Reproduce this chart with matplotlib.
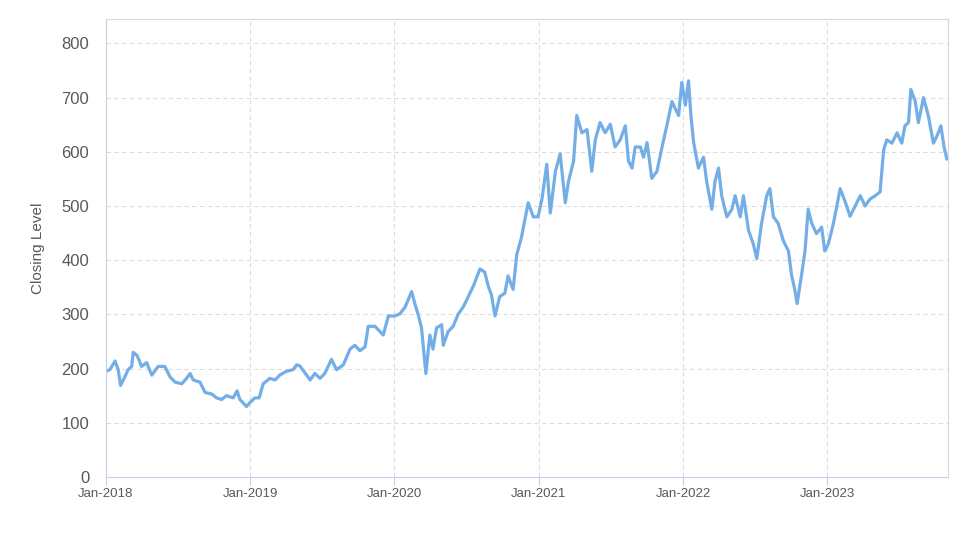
import pandas as pd
import numpy as np
import matplotlib
matplotlib.use("Agg")
import matplotlib.pyplot as plt
import matplotlib.dates as mdates

plt.rcParams["font.family"] = ["Liberation Sans", "DejaVu Sans"]

# closing level, roughly every 2 weeks
dates = [
    "2018-01-01", "2018-01-11", "2018-01-24", "2018-02-01", "2018-02-07", "2018-02-18",
    "2018-02-26", "2018-03-07", "2018-03-11", "2018-03-21", "2018-04-01", "2018-04-14",
    "2018-04-27", "2018-05-13", "2018-05-30", "2018-06-12", "2018-06-25", "2018-07-12",
    "2018-07-24", "2018-08-02", "2018-08-10", "2018-08-27", "2018-09-09", "2018-09-26",
    "2018-10-08", "2018-10-21", "2018-11-02", "2018-11-19", "2018-11-29", "2018-12-06",
    "2018-12-23", "2018-12-31",
    "2019-01-13", "2019-01-24", "2019-02-03", "2019-02-20", "2019-03-05", "2019-03-17",
    "2019-04-03", "2019-04-20", "2019-04-29", "2019-05-07", "2019-06-02", "2019-06-14",
    "2019-06-27", "2019-07-09", "2019-07-26", "2019-08-08", "2019-08-25", "2019-09-11",
    "2019-09-23", "2019-10-06", "2019-10-19", "2019-10-27", "2019-11-13", "2019-11-21",
    "2019-12-04", "2019-12-17",
    "2020-01-02", "2020-01-15", "2020-01-28", "2020-02-14", "2020-02-22", "2020-03-01",
    "2020-03-10", "2020-03-21", "2020-03-31", "2020-04-08", "2020-04-17", "2020-04-30",
    "2020-05-04", "2020-05-16", "2020-05-29", "2020-06-11", "2020-06-23", "2020-07-02",
    "2020-07-19", "2020-08-05", "2020-08-17", "2020-08-26", "2020-09-03", "2020-09-12",
    "2020-09-24", "2020-10-07", "2020-10-15", "2020-10-28", "2020-11-06", "2020-11-18",
    "2020-12-05", "2020-12-18", "2020-12-30",
    "2021-01-09", "2021-01-21", "2021-01-30", "2021-02-12", "2021-02-24", "2021-03-09",
    "2021-03-17", "2021-03-30", "2021-04-07", "2021-04-20", "2021-05-03", "2021-05-15",
    "2021-05-24", "2021-06-05", "2021-06-18", "2021-07-01", "2021-07-13", "2021-07-26",
    "2021-08-08", "2021-08-16", "2021-08-25", "2021-09-02", "2021-09-15", "2021-09-23",
    "2021-10-02", "2021-10-14", "2021-10-27", "2021-11-09", "2021-11-21", "2021-12-04",
    "2021-12-12", "2021-12-21", "2021-12-29",
    "2022-01-07", "2022-01-15", "2022-01-21", "2022-01-28", "2022-02-09", "2022-02-22",
    "2022-03-02", "2022-03-15", "2022-03-23", "2022-04-01", "2022-04-09", "2022-04-22",
    "2022-05-05", "2022-05-13", "2022-05-26", "2022-06-03", "2022-06-16", "2022-06-28",
    "2022-07-07", "2022-07-19", "2022-08-01", "2022-08-09", "2022-08-18", "2022-08-30",
    "2022-09-12", "2022-09-25", "2022-10-03", "2022-10-11", "2022-10-17", "2022-10-28",
    "2022-11-06", "2022-11-14", "2022-11-23", "2022-12-05", "2022-12-18", "2022-12-26",
    "2023-01-04", "2023-01-17", "2023-02-03", "2023-02-16", "2023-02-28", "2023-03-13",
    "2023-03-26", "2023-04-07", "2023-04-20", "2023-05-03", "2023-05-15", "2023-05-24",
    "2023-06-01", "2023-06-14", "2023-06-27", "2023-07-09", "2023-07-17", "2023-07-26",
    "2023-08-01", "2023-08-12", "2023-08-20", "2023-09-02", "2023-09-14", "2023-09-27",
    "2023-10-06", "2023-10-16", "2023-10-24", "2023-10-31",
]
closing = [
    195, 198, 214, 198, 169, 185, 198, 204, 230, 224, 204, 211,
    188, 204, 204, 185, 175, 172, 182, 191, 179, 175, 156, 153,
    146, 143, 150, 146, 159, 143, 130, 137,
    146, 146, 172, 182, 179, 188, 195, 198, 207, 205, 179, 191,
    182, 191, 217, 198, 207, 236, 243, 233, 240, 278, 278, 272,
    262, 297,
    297, 301, 313, 342, 320, 301, 275, 191, 262, 236, 275, 281,
    243, 268, 278, 301, 313, 326, 352, 384, 378, 352, 336, 297,
    333, 339, 371, 346, 410, 442, 506, 480, 480,
    513, 577, 487, 564, 596, 506, 545, 583, 667, 635, 641, 564,
    622, 654, 635, 651, 609, 622, 648, 583, 570, 609, 609, 590,
    617, 551, 564, 609, 648, 693, 680, 667, 728,
    686, 731, 667, 617, 570, 590, 545, 494, 545, 570, 519, 480,
    494, 519, 480, 519, 455, 430, 403, 468, 519, 532, 480, 468,
    436, 417, 372, 346, 320, 372, 417, 494, 468, 449, 461, 417,
    430, 468, 532, 507, 481, 500, 519, 500, 513, 519, 526, 603,
    622, 616, 635, 616, 648, 654, 715, 693, 654, 700, 667, 616,
    629, 648, 609, 587,
]
xticks = ["2018-01-01", "2019-01-01", "2020-01-01", "2021-01-01", "2022-01-01", "2023-01-01"]

df = pd.DataFrame({"date": pd.to_datetime(dates), "close": closing})

fig = plt.figure(figsize=(9.74, 5.47), dpi=100)
ax = fig.add_axes([0.1088, 0.128, 0.8645, 0.8372])

ax.plot(df["date"], df["close"], color="#73aee6", linewidth=2.3, solid_joinstyle="round")

ax.set_xlim(pd.Timestamp("2018-01-01"), pd.Timestamp("2023-11-03"))
ax.set_ylim(0, 845)
ax.set_yticks(range(0, 801, 100))
ax.set_xticks(pd.to_datetime(xticks))
ax.xaxis.set_major_formatter(mdates.DateFormatter("%b-%Y"))

ax.grid(True, linestyle=(0, (4, 3)), color="#dcdcdc", linewidth=0.8)
ax.set_axisbelow(True)

for side in ["top", "right"]:
    ax.spines[side].set_color("#d6d9e0")
for side in ["left", "bottom"]:
    ax.spines[side].set_color("#c3d0e6")
ax.tick_params(axis="y", length=0, labelsize=12, labelcolor="#595959", pad=12)
ax.tick_params(axis="x", length=6, color="#c3d0e6", labelsize=9.5, labelcolor="#595959", pad=2)

ax.set_ylabel("Closing Level", fontsize=11, color="#595959", labelpad=12)

fig.savefig("out.png", dpi=100, facecolor="white")
